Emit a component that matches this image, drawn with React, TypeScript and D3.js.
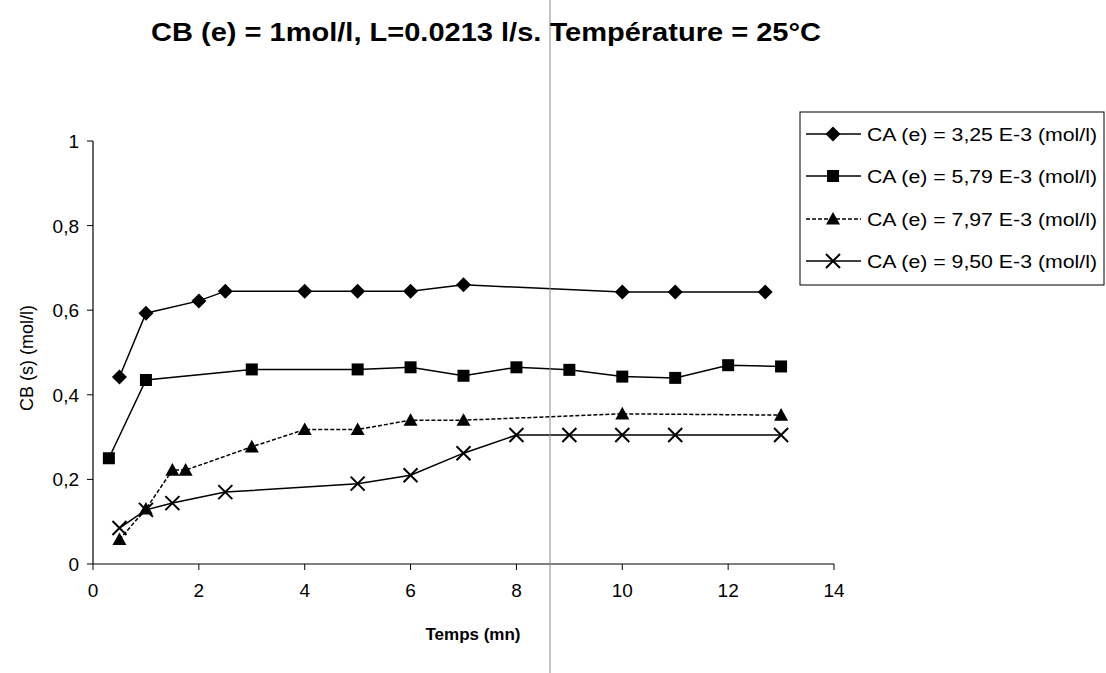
import React from "react";
import * as d3 from "d3";

const seriesNames = [
  "CA (e) = 3,25 E-3 (mol/l)",
  "CA (e) = 5,79 E-3 (mol/l)",
  "CA (e) = 7,97 E-3 (mol/l)",
  "CA (e) = 9,50 E-3 (mol/l)",
];
const xDiamond = [0.5, 1, 2, 2.5, 4, 5, 6, 7, 10, 11, 12.7];
const yDiamond = [0.442, 0.593, 0.622, 0.645, 0.645, 0.645, 0.645, 0.66, 0.643, 0.643, 0.643];
const xSquare = [0.3, 1, 3, 5, 6, 7, 8, 9, 10, 11, 12, 13];
const ySquare = [0.25, 0.435, 0.46, 0.46, 0.465, 0.445, 0.465, 0.459, 0.443, 0.44, 0.47, 0.467];
const xTriangle = [0.5, 1, 1.5, 1.75, 3, 4, 5, 6, 7, 10, 13];
const yTriangle = [0.058, 0.13, 0.222, 0.222, 0.277, 0.318, 0.318, 0.34, 0.34, 0.355, 0.352];
const xCross = [0.5, 1, 1.5, 2.5, 5, 6, 7, 8, 9, 10, 11, 13];
const yCross = [0.085, 0.128, 0.144, 0.17, 0.19, 0.21, 0.262, 0.305, 0.305, 0.305, 0.305, 0.305];
const xTicks = [0, 2, 4, 6, 8, 10, 12, 14];
const yTicks = [0, 0.2, 0.4, 0.6, 0.8, 1];
const title = "CB (e) = 1mol/l, L=0.0213 l/s. Température = 25°C";
const xTitle = "Temps (mn)";
const yTitle = "CB (s) (mol/l)";

const FONT = "Liberation Sans, Arial, sans-serif";

type Kind = "diamond" | "square" | "triangle" | "cross";

function Marker({ kind, cx, cy }: { kind: Kind; cx: number; cy: number }) {
  if (kind === "diamond") {
    const r = 7.5;
    return <path d={`M${cx},${cy - r}L${cx + r},${cy}L${cx},${cy + r}L${cx - r},${cy}Z`} fill="#000" />;
  }
  if (kind === "square") {
    const r = 6;
    return <rect x={cx - r} y={cy - r} width={2 * r} height={2 * r} fill="#000" />;
  }
  if (kind === "triangle") {
    const r = 7;
    return <path d={`M${cx},${cy - r}L${cx + r},${cy + r * 0.8}L${cx - r},${cy + r * 0.8}Z`} fill="#000" />;
  }
  const r = 7;
  return (
    <path d={`M${cx - r},${cy - r}L${cx + r},${cy + r}M${cx - r},${cy + r}L${cx + r},${cy - r}`} stroke="#000" strokeWidth={2} fill="none" />
  );
}

export default function App() {
  const W = 1106, H = 673;
  const x = d3.scaleLinear().domain([0, 14]).range([93, 834]);
  const y = d3.scaleLinear().domain([0, 1]).range([564, 141]);
  const line = d3.line<[number, number]>().x((d) => x(d[0])).y((d) => y(d[1]));

  const series: { kind: Kind; xs: number[]; ys: number[]; dash?: string; name: string }[] = [
    { kind: "diamond", xs: xDiamond, ys: yDiamond, name: seriesNames[0] },
    { kind: "square", xs: xSquare, ys: ySquare, name: seriesNames[1] },
    { kind: "triangle", xs: xTriangle, ys: yTriangle, dash: "4,2", name: seriesNames[2] },
    { kind: "cross", xs: xCross, ys: yCross, name: seriesNames[3] },
  ];

  const legendX = 800, legendY = 112, legendW = 304, legendH = 173;
  const rowY = [134, 176, 219, 261];

  return (
    <svg width={W} height={H} style={{ position: "absolute", left: 0, top: 0, background: "#fff" }} fontFamily={FONT}>
      <rect width={W} height={H} fill="#fff" />
      <text x={486} y={41} textAnchor="middle" fontSize={25} fontWeight="bold" textLength={670} lengthAdjust="spacingAndGlyphs">{title}</text>

      {/* axes */}
      <line x1={x(0)} x2={x(14)} y1={y(0)} y2={y(0)} stroke="#000" strokeWidth={1.2} />
      <line x1={x(0)} x2={x(0)} y1={y(0)} y2={y(1)} stroke="#000" strokeWidth={1.2} />
      {xTicks.map((t) => (
        <g key={"xt" + t}>
          <line x1={x(t)} x2={x(t)} y1={y(0)} y2={y(0) + 6} stroke="#000" />
          <text x={x(t)} y={y(0) + 33} textAnchor="middle" fontSize={19}>{String(t)}</text>
        </g>
      ))}
      {yTicks.map((t) => (
        <g key={"yt" + t}>
          <line x1={x(0) - 6} x2={x(0)} y1={y(t)} y2={y(t)} stroke="#000" />
          <text x={x(0) - 14} y={y(t) + 7} textAnchor="end" fontSize={19}>{t === 0 ? "0" : t === 1 ? "1" : String(t).replace(".", ",")}</text>
        </g>
      ))}
      <text x={473} y={640} textAnchor="middle" fontSize={17} fontWeight="bold">{xTitle}</text>
      <text transform={`translate(33,358) rotate(-90)`} textAnchor="middle" fontSize={18}>{yTitle}</text>

      {/* series */}
      {series.map((s, i) => {
        const pts: [number, number][] = s.xs.map((v, k) => [v, s.ys[k]]);
        return (
          <g key={"s" + i}>
            <path d={line(pts) || ""} fill="none" stroke="#000" strokeWidth={1.5} strokeDasharray={s.dash} />
            {pts.map((p, k) => (
              <Marker key={k} kind={s.kind} cx={x(p[0])} cy={y(p[1])} />
            ))}
          </g>
        );
      })}

      {/* legend */}
      <rect x={legendX} y={legendY} width={legendW} height={legendH} fill="none" stroke="#000" strokeWidth={1} />
      {series.map((s, i) => (
        <g key={"l" + i}>
          <line x1={806} x2={861} y1={rowY[i]} y2={rowY[i]} stroke="#000" strokeWidth={1.5} strokeDasharray={s.dash} />
          <Marker kind={s.kind} cx={833} cy={rowY[i]} />
          <text x={867} y={rowY[i] + 7} fontSize={18} textLength={230} lengthAdjust="spacingAndGlyphs">{s.name}</text>
        </g>
      ))}

      {/* scan fold line */}
      <line x1={550} x2={550} y1={0} y2={H} stroke="#888" strokeWidth={1} />
    </svg>
  );
}
